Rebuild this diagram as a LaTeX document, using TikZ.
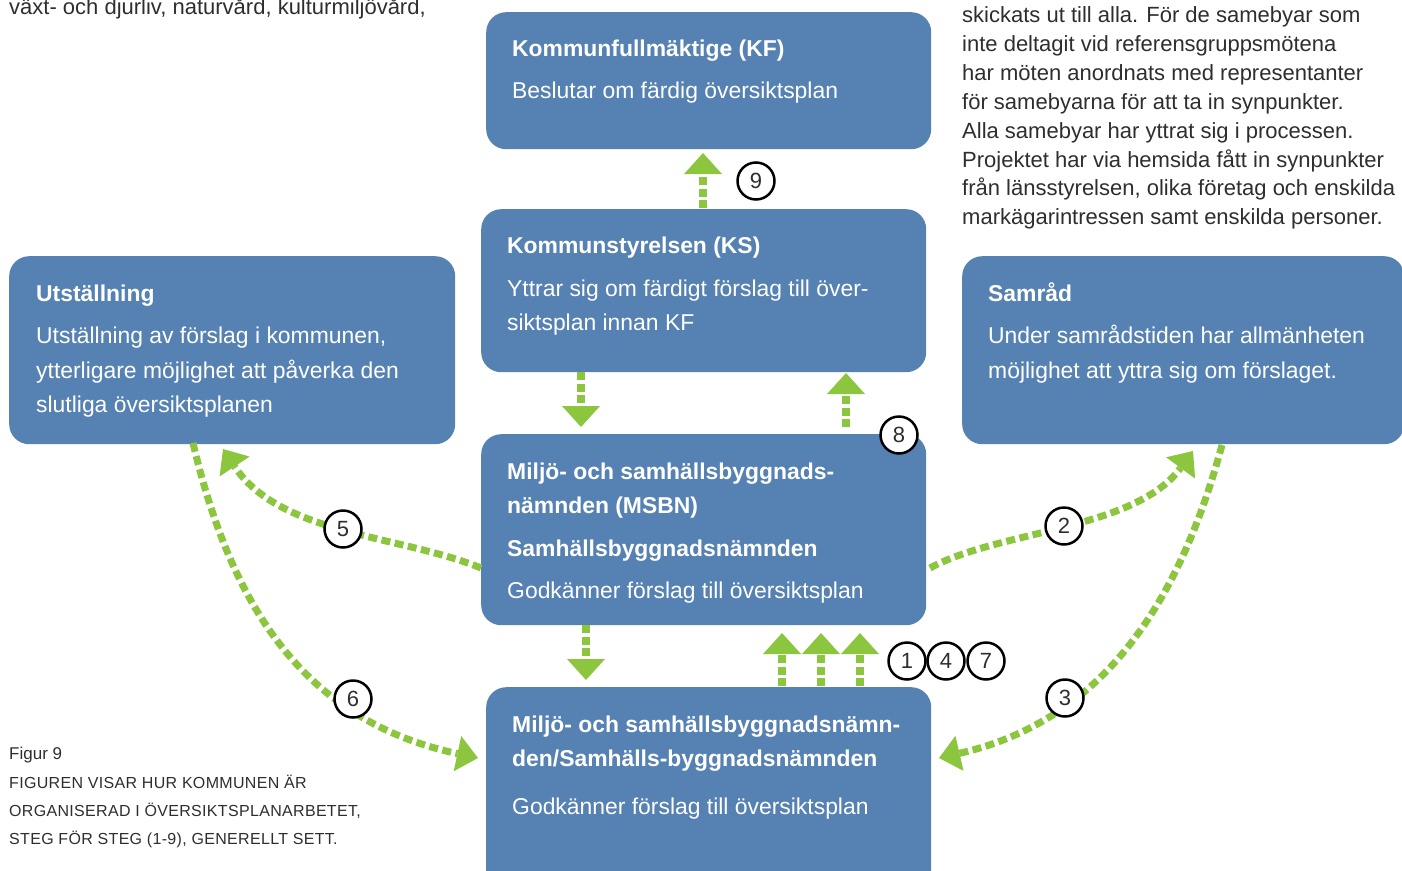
\documentclass[tikz,border=0pt]{standalone}
\usepackage{fontspec}
\setmainfont{Liberation Sans}
\usetikzlibrary{arrows.meta}
\definecolor{boxblue}{HTML}{5581B3}
\definecolor{grn}{HTML}{8CC63F}
\definecolor{txt}{HTML}{2E2E2E}
\begin{document}
\begin{tikzpicture}[x=1pt,y=-1pt,
  box/.style={fill=boxblue, rounded corners=20pt, inner sep=0pt, anchor=north west},
  tb/.style={font=\fontsize{22.9}{26}\selectfont\bfseries, text=white, inner sep=0pt, anchor=base west},
  tr/.style={font=\fontsize{22.9}{26}\selectfont, text=white, inner sep=0pt, anchor=base west},
  plain/.style={font=\fontsize{22}{26}\selectfont, text=txt, inner sep=0pt, anchor=base west},
  capt/.style={font=\fontsize{16}{20}\selectfont\addfontfeatures{LetterSpace=2}, text=txt, inner sep=0pt, anchor=base west},
  varrow/.style={draw=grn, line width=8pt, dash pattern=on 8pt off 3.5pt,
    -{Triangle[length=21pt,width=38pt,line width=0pt]}},
  carrow/.style={draw=grn, line width=7pt, dash pattern=on 9pt off 4.5pt,
    -{Triangle[length=21pt,width=36pt,line width=0pt]}},
  num/.style={circle, draw=black, fill=white, line width=2.5pt, minimum size=37pt, inner sep=0pt,
    font=\fontsize{22}{22}\selectfont, text=txt}
]
\useasboundingbox (0,0) rectangle (1402,870);

% ---------- boxes ----------
\node[box, minimum width=445pt, minimum height=137pt] (kf) at (486,12) {};
\node[box, minimum width=445pt, minimum height=163pt] (ks) at (481,209) {};
\node[box, minimum width=446pt, minimum height=188pt] (ut) at (9,256) {};
\node[box, minimum width=442pt, minimum height=188pt] (sr) at (962,256) {};
\node[box, minimum width=445pt, minimum height=191pt] (ms) at (481,434) {};
\node[box, minimum width=445pt, minimum height=210pt] (bt) at (486,687) {};

% ---------- box texts ----------
\node[tb] (kfh) at (512,56) {Kommunfullmäktige (KF)};
\node[tr] (kfb) at (512,98) {Beslutar om färdig översiktsplan};

\node[tb] (ksh) at (507,253) {Kommunstyrelsen (KS)};
\node[tr] (ksb1) at (507,296) {Yttrar sig om färdigt förslag till över-};
\node[tr] (ksb2) at (507,330) {siktsplan innan KF};

\node[tb] (uth) at (36,301) {Utställning};
\node[tr] (utb1) at (36,343) {Utställning av förslag i kommunen,};
\node[tr] (utb2) at (36,378) {ytterligare möjlighet att påverka den};
\node[tr] (utb3) at (36,412) {slutliga översiktsplanen};

\node[tb] (srh) at (988,301) {Samråd};
\node[tr] (srb1) at (988,343) {Under samrådstiden har allmänheten};
\node[tr] (srb2) at (988,378) {möjlighet att yttra sig om förslaget.};

\node[tb] (msh1) at (507,479) {Miljö- och samhällsbyggnads-};
\node[tb] (msh2) at (507,513) {nämnden (MSBN)};
\node[tb] (msh3) at (507,556) {Samhällsbyggnadsnämnden};
\node[tr] (msb) at (507,598) {Godkänner förslag till översiktsplan};

\node[tb] (bth1) at (512,732) {Miljö- och samhällsbyggnadsnämn-};
\node[tb] (bth2) at (512,766) {den/Samhälls-byggnadsnämnden};
\node[tr] (btb) at (512,814) {Godkänner förslag till översiktsplan};

% ---------- free texts ----------
\node[plain] (toptext) at (9,14) {växt- och djurliv, naturvård, kulturmiljövård,};
\foreach \t [count=\i] in {{skickats ut till alla. För de samebyar som},
  {inte deltagit vid referensgruppsmötena},
  {har möten anordnats med representanter},
  {för samebyarna för att ta in synpunkter.},
  {Alla samebyar har yttrat sig i processen.},
  {Projektet har via hemsida fått in synpunkter},
  {från länsstyrelsen, olika företag och enskilda},
  {markägarintressen samt enskilda personer.}}
  \node[plain] (r\i) at ({962},{23+28.8*(\i-1)}) {\t};

\node[plain, font=\fontsize{17}{20}\selectfont] (fig) at (9,759) {Figur 9};
\node[capt] (cap1) at (9,788) {FIGUREN VISAR HUR KOMMUNEN ÄR};
\node[capt] (cap2) at (9,816) {ORGANISERAD I ÖVERSIKTSPLANARBETET,};
\node[capt] (cap3) at (9,844) {STEG FÖR STEG (1-9), GENERELLT SETT.};

% ---------- straight arrows ----------
\coordinate (a9s) at (703,208);  \coordinate (a9e) at (703,153);
\draw[varrow] (a9s) -- (a9e);
\coordinate (adS) at (581,372);  \coordinate (adE) at (581,427);
\draw[varrow] (adS) -- (adE);
\coordinate (a8s) at (846,427);  \coordinate (a8e) at (846,373);
\draw[varrow] (a8s) -- (a8e);
\coordinate (amS) at (586,625);  \coordinate (amE) at (586,680);
\draw[varrow] (amS) -- (amE);
\foreach \x/\n in {782/1,821/2,860/3}{
  \coordinate (u\n s) at (\x,686); \coordinate (u\n e) at (\x,633);
  \draw[varrow] (u\n s) -- (u\n e);
}

% ---------- curved arrows ----------
\coordinate (c5s) at (481,568); \coordinate (c5e) at (223,449);
\draw[carrow] (c5s) .. controls (400,535) and (280,535) .. (c5e);
\coordinate (c6s) at (193,443); \coordinate (c6e) at (478,758);
\draw[carrow] (c6s) .. controls (230,600) and (300,720) .. (c6e);
\coordinate (c2s) at (930,568); \coordinate (c2e) at (1193,451);
\draw[carrow] (c2s) .. controls (1000,530) and (1135,530) .. (c2e);
\coordinate (c3s) at (1222,445); \coordinate (c3e) at (939,758);
\draw[carrow] (c3s) .. controls (1180,600) and (1105,720) .. (c3e);

% ---------- number circles ----------
\node[num] (n9) at (756,181) {9};
\node[num] (n8) at (899,435) {8};
\node[num] (n5) at (343,529) {5};
\node[num] (n2) at (1064,526) {2};
\node[num] (n6) at (353,699) {6};
\node[num] (n3) at (1065,698) {3};
\node[num] (n1) at (907,661) {1};
\node[num] (n4) at (946,661) {4};
\node[num] (n7) at (986,661) {7};
\end{tikzpicture}
\end{document}
